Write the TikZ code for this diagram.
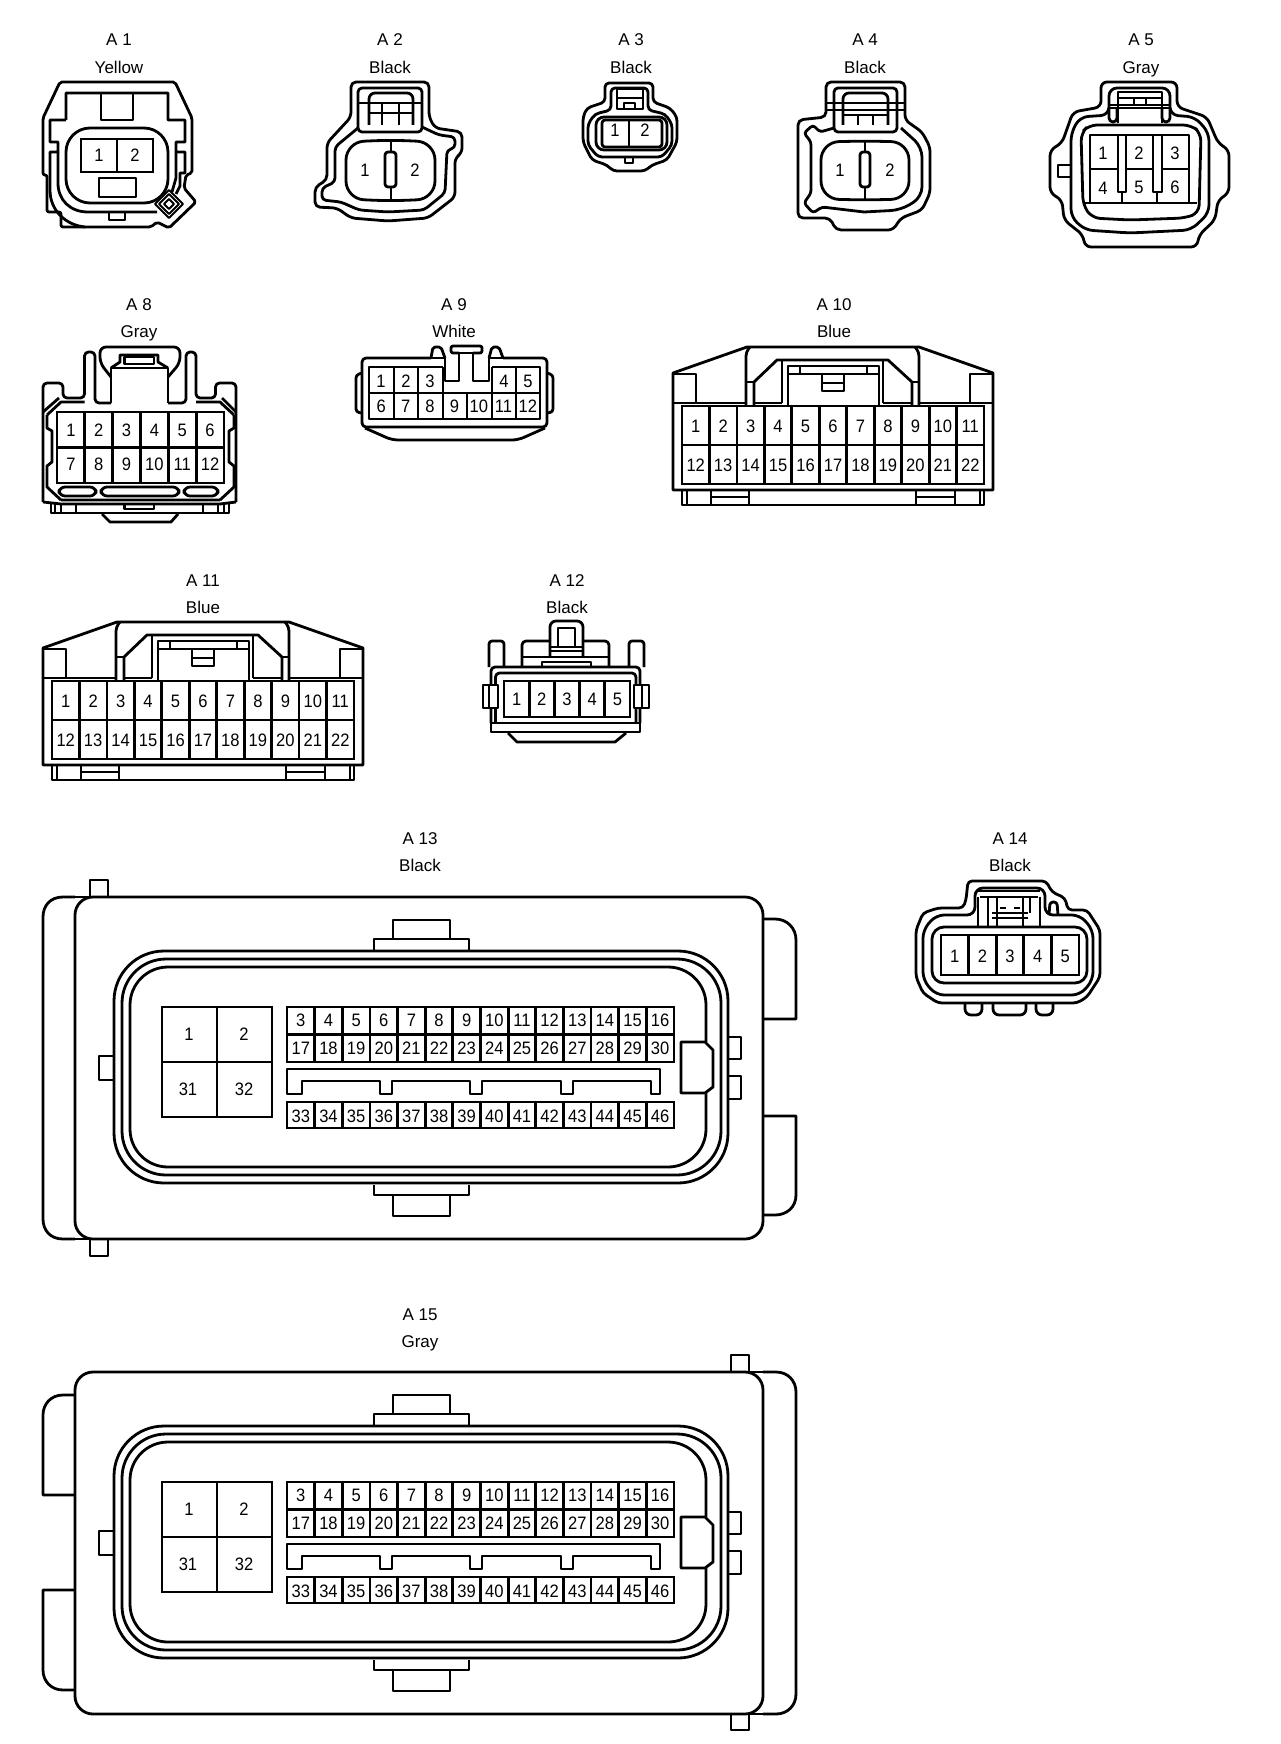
\documentclass[tikz,border=0pt]{standalone}
\usepackage{fontspec}
\setmainfont{Liberation Sans}
\newfontfamily\pinfont[FakeStretch=0.92]{Liberation Sans}
\usetikzlibrary{positioning}

\tikzset{
  pinnum/.style={font=\pinfont\fontsize{9}{10}\selectfont, inner sep=0pt, yshift=-0.5pt},
  title/.style={font=\fontsize{8.5}{10}\selectfont, inner sep=0pt, text height=6pt, text depth=0pt}
}

\newcommand{\pingrid}[6]{
  \foreach \c in {0,...,#5} \draw[line cap=rect] ({#1+(#3-#1)*\c/#5},#2) -- ({#1+(#3-#1)*\c/#5},#4);
  \foreach \r in {0,...,#6} \draw[line cap=rect] (#1,{#2+(#4-#2)*\r/#6}) -- (#3,{#2+(#4-#2)*\r/#6});
}
\newcommand{\pinrow}[6]{
  \foreach \n [count=\i] in {#2,...,#3}
    \node[pinnum] (#1p\n) at ({#4+(#5-#4)*(\i-.5)/(#3-#2+1)},#6) {\n};
}
\newcommand{\ecuface}[1]{
  \draw (374,950) -- (374,939) -- (469,939) -- (469,950);
  \draw (393,939) -- (393,920) -- (450,920) -- (450,939);
  \draw (374,1185) -- (374,1195) -- (469,1195) -- (469,1185);
  \draw (393,1195) -- (393,1216) -- (450,1216) -- (450,1195);
  \draw[rounded corners=25pt] (114,951) rectangle (728,1183);
  \draw[rounded corners=22pt] (122,959) rectangle (721,1175);
  \draw[rounded corners=19pt] (706,1042) -- (706,967) -- (130,967) -- (130,1167) -- (706,1167) -- (706,1093);
  \draw (681,1042) -- (705,1042) -- (713,1050) -- (713,1087) -- (705,1093) -- (681,1093) -- cycle;
  \draw (113,1056) -- (99,1056) -- (99,1080) -- (113,1080);
  \draw (728,1037) -- (741,1037) -- (741,1059) -- (728,1059);
  \draw (728,1076) -- (741,1076) -- (741,1099) -- (728,1099);
  \pingrid{162}{1007}{272}{1117}{2}{2}
  \node[pinnum] (#1p1) at (189,1033) {1};
  \node[pinnum] (#1p2) at (244,1033) {2};
  \node[pinnum] (#1p31) at (188,1088) {31};
  \node[pinnum] (#1p32) at (244,1088) {32};
  \pingrid{287}{1007}{674}{1062}{14}{2}
  \pingrid{287}{1102}{674}{1128}{14}{1}
  \pinrow{#1}{3}{16}{287}{674}{1019}
  \pinrow{#1}{17}{30}{287}{674}{1047}
  \pinrow{#1}{33}{46}{287}{674}{1115}
  \draw (287,1069) -- (660,1069) -- (660,1094) -- (651,1094) -- (651,1081) -- (573,1081) -- (573,1094) -- (561,1094)
    -- (561,1081) -- (482,1081) -- (482,1094) -- (470,1094) -- (470,1081) -- (392,1081) -- (392,1094) -- (380,1094)
    -- (380,1081) -- (302,1081) -- (302,1094) -- (287,1094) -- cycle;
}

\begin{document}
\begin{tikzpicture}[x=0.5pt, y=-0.5pt, line width=1.4pt, line join=round]
  \useasboundingbox (0,0) rectangle (1280,1744);

  \foreach \id/\x/\y/\col in {1/119/40/Yellow, 2/390/40/Black, 3/631/40/Black, 4/865/40/Black, 5/1141/40/Gray,
      8/139/304/Gray, 9/454/304/White, 10/834/304/Blue, 11/203/580/Blue, 12/567/580/Black,
      13/420/838/Black, 14/1010/838/Black, 15/420/1314/Gray} {
    \node[title] (name\id) at (\x,\y) {A \id};
    \node[title] (col\id) at (\x,\y+27.5) {\col};
  }

  \draw[rounded corners=1pt] (60,82) -- (175,82) -- (192,118) -- (192,173) -- (186,175) -- (184,188) -- (196,202) -- (169,228)
    -- (157,222) -- (151,227) -- (61,227) -- (61,212) -- (47,212) -- (47,175) -- (43,175) -- (43,118) -- cycle;
  \draw (66,120) -- (66,93) -- (168,93) -- (168,120) -- (185,120) -- (185,142) -- (176,142) -- (176,152) -- (185,152) -- (185,173)
    -- (180,173) -- (180,186) -- (176,194);
  \draw (66,120) -- (50,120) -- (50,142) -- (58,142) -- (58,152) -- (50,152) -- (50,190) .. controls (50,210) and (65,225) .. (85,227);
  \draw (58,152) -- (58,183) .. controls (58,200) and (70,212) .. (88,212) -- (157,212);
  \draw (176,152) -- (176,178) -- (172,192);
  \draw (101,93) rectangle (133,120);
  \draw[rounded corners=12pt] (66,128) rectangle (168,203);
  \pingrid{81}{139}{153}{172}{2}{1}
  \pinrow{a1}{1}{2}{81}{153}{154}
  \draw (99,178) rectangle (136,197);
  \draw (109,211) -- (109,220) -- (125,220) -- (125,211);
  \foreach \r in {14,10,5}
    \draw[line width=1pt] (169-\r,204) -- (169,204-\r) -- (169+\r,204) -- (169,204+\r) -- cycle;

  \draw[rounded corners=2.5pt] (351,117) -- (351,82) -- (429,82) -- (429,117) -- (435,128) -- (462,132) -- (462,153) -- (455,158) -- (455,197)
    -- (428,218) -- (388,221) -- (351,218) -- (337,208) -- (315,207) -- (315,187) -- (327,180) -- (327,143) -- cycle;
  \draw[rounded corners=2pt] (358,132) -- (358,88) -- (422,88) -- (422,132) -- cycle;
  \draw[rounded corners=2pt] (358,128) -- (335,147) -- (335,182) -- (322,188) -- (322,200) -- (341,202) -- (359,210) -- (388,212) -- (424,210)
    -- (445,193) -- (447,150) -- (455,148) -- (455,137) -- (439,135) -- (422,127);
  \draw[rounded corners=3pt] (369,125) -- (369,93) -- (413,93) -- (413,125);
  \draw (358,103) -- (422,103) (369,113) -- (413,113) (382,103) -- (382,125) (399,103) -- (399,125);
  \draw[rounded corners=9pt] (346,142) -- (391,140) -- (435,142) -- (435,199) -- (391,201) -- (346,199) -- cycle;
  \draw (391,140) -- (391,201);
  \draw[fill=white, rounded corners=1.5pt] (385,152) rectangle (396,187);
  \node[pinnum] (a2p1) at (365,169) {1};
  \node[pinnum] (a2p2) at (415,169) {2};

  \draw[rounded corners=2pt] (605,102) -- (605,83) -- (653,83) -- (653,102) -- (670,108) -- (677,117) -- (677,142) -- (667,160) -- (652,165) -- (645,171)
    -- (613,171) -- (607,165) -- (592,160) -- (583,142) -- (583,117) -- (587,108) -- cycle;
  \draw[rounded corners=2pt] (611,110) -- (611,88) -- (648,88) -- (648,110) -- (665,114) -- (672,124) -- (672,145) -- (662,157) -- (598,157) -- (588,145) -- (588,124) -- (595,114) -- cycle;
  \draw[rounded corners=4pt] (596,117) rectangle (667,150);
  \draw[rounded corners=1.5pt] (602,120) rectangle (662,147);
  \draw (629,120) -- (629,147);
  \node[pinnum] (a3p1) at (615,129) {1};
  \node[pinnum] (a3p2) at (645,129) {2};
  \draw (617,109) -- (617,89) -- (643,89) -- (643,109) -- cycle;
  \draw (617,98) -- (643,98) (624,109) -- (624,103) -- (635,103) -- (635,109);
  \draw (625,158) -- (625,163) -- (633,163) -- (633,158);

  \draw[rounded corners=2.5pt] (826,117) -- (826,82) -- (905,82) -- (905,120) -- (922,132) -- (930,147) -- (930,193) -- (922,210) -- (901,218) -- (893,230)
    -- (836,230) -- (830,218) -- (798,218) -- (798,120) -- cycle;
  \draw[rounded corners=2pt] (834,132) -- (834,88) -- (897,88) -- (897,132) -- cycle;
  \draw[rounded corners=1.5pt] (834,128) -- (820,132) -- (813,125) -- (804,133) -- (811,142) -- (811,193) -- (804,203) -- (813,213) -- (822,207) -- (864,212);
  \draw[rounded corners=5pt] (864,212) -- (901,210) -- (922,197) -- (922,147) -- (901,128);
  \draw[rounded corners=3pt] (843,125) -- (843,93) -- (888,93) -- (888,125);
  \draw (826,103) -- (905,103) (826,110) -- (905,110) (843,115) -- (888,115) (858,115) -- (858,125) (873,115) -- (873,125);
  \draw[rounded corners=9pt] (821,142) -- (865,141) -- (909,142) -- (909,199) -- (865,200) -- (821,199) -- cycle;
  \draw (865,140) -- (865,200);
  \draw[fill=white, rounded corners=1.5pt] (860,152) rectangle (870,187);
  \node[pinnum] (a4p1) at (840,169) {1};
  \node[pinnum] (a4p2) at (890,169) {2};

  \draw[rounded corners=3pt] (1101,107) -- (1101,82) -- (1177,82) -- (1177,107) -- (1207,117) -- (1218,143) -- (1229,150) -- (1229,193) -- (1218,200) -- (1215,220)
    -- (1199,235) -- (1197,247) -- (1085,247) -- (1083,235) -- (1064,220) -- (1062,200) -- (1050,193) -- (1050,150) -- (1062,143) -- (1073,112) -- cycle;
  \draw[rounded corners=4pt] (1109,115) -- (1109,88) -- (1170,88) -- (1170,115) -- (1195,117) -- (1209,133) -- (1209,213) -- (1191,230) -- (1130,233) -- (1085,230) -- (1071,217) -- (1071,133) -- (1080,117) -- cycle;
  \draw[rounded corners=4pt] (1089,125) -- (1191,125) -- (1201,133) -- (1199,213) -- (1185,218) -- (1130,220) -- (1092,218) -- (1083,205) -- (1081,133) -- cycle;
  \draw (1118,123) -- (1118,92) -- (1162,92) -- (1162,123);
  \draw (1118,98) -- (1162,98) (1109,105) -- (1170,105) (1109,108) -- (1170,108) (1134,98) -- (1134,105) (1146,98) -- (1146,105);
  \draw[rounded corners=2pt] (1109,108) -- (1109,122) -- (1117,122) -- (1117,108);
  \draw[rounded corners=2pt] (1162,108) -- (1162,122) -- (1170,122) -- (1170,108);
  \draw (1071,165) -- (1058,165) -- (1058,177) -- (1071,177);
  \draw (1090,203) -- (1090,135) -- (1189,135) -- (1189,203) (1083,203) -- (1197,203);
  \draw (1090,169) -- (1118,169) (1126,169) -- (1153,169) (1162,169) -- (1189,169);
  \draw (1118,135) -- (1118,192) -- (1126,192) -- (1126,135) (1153,135) -- (1153,192) -- (1162,192) -- (1162,135);
  \draw (1122,192) -- (1122,203) (1157,192) -- (1157,203);
  \foreach \n/\x/\y in {1/1103/152, 2/1139/152, 3/1175/152, 4/1103/187, 5/1139/186, 6/1175/186}
    \node[pinnum] (a5p\n) at (\x,\y) {\n};

  \draw[rounded corners=2pt] (43,502) -- (43,383) -- (63,383) -- (63,398) -- (84.5,398) -- (84.5,352) -- (95,352) -- (95,403) -- (111,403);
  \draw[rounded corners=2pt] (168,403) -- (186,403) -- (186,352) -- (196,352) -- (196,398) -- (215.5,398) -- (215.5,383) -- (236,383) -- (236,502);
  \draw (111,403) -- (111,368) -- (168,368) -- (168,403);
  \draw[rounded corners=3pt] (111,377) -- (100,363) -- (100,347) -- (180,347) -- (180,363) -- (168,377);
  \draw (111,368) -- (120,362) -- (120,355) -- (158,355) -- (158,362) -- (168,368);
  \draw (124.5,357) rectangle (154,364);
  \draw (43,412) -- (59,398) (47,415) -- (61,402) -- (84.5,402) (47,415) -- (47,428) -- (52,431) -- (52,462) -- (47,466) -- (47,487) -- (61,500);
  \draw (236,412) -- (222,398) (234,415) -- (220,402) -- (196,402) (234,415) -- (234,428) -- (229,431) -- (229,462) -- (234,466) -- (234,487) -- (220,500);
  \pingrid{57}{412}{224}{483}{6}{2}
  \pinrow{a8}{1}{6}{57}{224}{429}
  \pinrow{a8}{7}{12}{57}{224}{463}
  \draw[rounded corners=3pt] (59,487) rectangle (96,496);
  \draw[rounded corners=3pt] (101,487) rectangle (179,496);
  \draw[rounded corners=3pt] (184,487) rectangle (218,496);
  \draw (61,500) -- (220,500) (43,502) -- (61,504) -- (220,504) -- (236,502);
  \draw (51,504) -- (51,513) -- (229,513) -- (229,504);
  \draw (55,504) -- (55,513) (61,504) -- (61,513) (76,504) -- (76,513) (203,504) -- (203,513) (218,504) -- (218,513) (224,504) -- (224,513);
  \draw (124.5,504) -- (124.5,509) -- (154,509) -- (154,504);
  \draw (102,514) -- (110,522) -- (171,522) -- (178,514);

  \draw[rounded corners=2pt] (431,358) -- (362,358) -- (362,427) -- (547,427) -- (547,358) -- (503,358);
  \draw[rounded corners=1pt] (431,358) -- (433,347) -- (441,347) -- (445,358) (503,358) -- (499,347) -- (492,347) -- (489,358);
  \draw (431,358) -- (445,358) -- (445,381) -- (459,381) -- (459,353) (473,353) -- (473,381) -- (489,381) -- (489,358) -- (503,358);
  \draw[rounded corners=1pt] (459,353) -- (451,353) -- (451,346) -- (482,346) -- (482,353) -- (473,353);
  \draw (459,353) -- (473,353);
  \draw (443,367) -- (369,367) -- (369,419) -- (540,419) -- (540,367) -- (492,367);
  \draw (369,393) -- (540,393) (443,367) -- (443,419) (492,367) -- (492,419);
  \draw (394,367) -- (394,419) (418,367) -- (418,419) (467,393) -- (467,419) (516,367) -- (516,419);
  \draw[rounded corners=1.5pt] (362,373) -- (356,375) -- (356,412) -- (362,413) (547,373) -- (553,375) -- (553,412) -- (547,413);
  \draw[rounded corners=3pt] (365,428) -- (392,440) -- (518,440) -- (545,428);
  \foreach \n/\x in {1/381, 2/406, 3/430, 4/504, 5/528}
    \node[pinnum] (a9p\n) at (\x,380) {\n};
  \pinrow{a9}{6}{12}{369}{540}{405}

  \foreach \id/\dx/\dy in {10/0/0, 11/-630/275} {
    \begin{scope}[shift={(\dx,\dy)}]
      \draw (747,347) -- (919,347) -- (993,373) -- (993,490) -- (673,490) -- (673,373) -- cycle;
      \draw (673,374) -- (696,374) -- (696,402) (993,374) -- (970,374) -- (970,402);
      \draw (673,403) -- (746,403) (919,403) -- (993,403);
      \draw[rounded corners=2pt] (746,406) -- (746,352) -- (750,347);
      \draw[rounded corners=2pt] (919,406) -- (919,352) -- (915,347);
      \draw (754,406) -- (754,382) -- (777,360) -- (888,360) -- (912,382) -- (912,406);
      \draw (746,382) -- (754,382) (912,382) -- (919,382);
      \draw (782,360) -- (782,403) (883,360) -- (883,403) (754,403) -- (782,403) (883,403) -- (912,403);
      \draw (788,405) -- (788,366) -- (879,366) -- (879,405) (788,374) -- (879,374);
      \draw (800,366) -- (800,374) (867,366) -- (867,374);
      \draw (822,374) -- (822,391) -- (844,391) -- (844,374) (822,383) -- (844,383);
      \pingrid{682}{406}{984}{484}{11}{2}
      \pinrow{a\id}{1}{11}{682}{984}{425}
      \pinrow{a\id}{12}{22}{682}{984}{464}
      \draw (682,490) -- (682,505) -- (984,505) -- (984,490);
      \draw (687,490) -- (687,505) (711,490) -- (711,505) (749,490) -- (749,505) (916,490) -- (916,505) (955,490) -- (955,505) (980,490) -- (980,505);
      \draw (711,497) -- (749,497) (916,497) -- (955,497);
    \end{scope}
  }

  \draw[rounded corners=2pt] (491,723) -- (491,667) -- (640,667) -- (640,723);
  \draw[rounded corners=2pt] (495.5,723) -- (495.5,673) -- (636,673) -- (636,723);
  \draw (491,723) -- (491,732) -- (640,732) -- (640,723) (491,723) -- (640,723);
  \draw (508,733) -- (517,742) -- (615,742) -- (626,733);
  \pingrid{504}{681}{630}{717}{5}{1}
  \pinrow{a12}{1}{5}{504}{630}{698}
  \draw[fill=white] (483,685) rectangle (498,708);
  \draw (489,685) -- (489,708);
  \draw[fill=white] (634,685) rectangle (649,708);
  \draw (642,685) -- (642,708);
  \draw[rounded corners=1.5pt] (489,667) -- (489,641) -- (504,641) -- (504,667);
  \draw[rounded corners=1.5pt] (629,667) -- (629,641) -- (644,641) -- (644,667);
  \draw[rounded corners=2pt] (522,667) -- (522,641) -- (550,641);
  \draw[rounded corners=2pt] (583,641) -- (609,641) -- (609,667);
  \draw (522,657) -- (609,657);
  \draw[rounded corners=3pt] (550,657) -- (550,621) -- (583,621) -- (583,657);
  \draw (558,647) -- (558,628) -- (575,628) -- (575,647) (550,647) -- (583,647) (550,651) -- (583,651);
  \draw (542,667) -- (542,662) -- (591,662) -- (591,667);

  \draw[rounded corners=9pt] (75,897) rectangle (763,1239);
  \draw (75,897) -- (63,897) .. controls (50,897) and (43,906) .. (43,917) -- (43,1219) .. controls (43,1230) and (50,1239) .. (63,1239) -- (75,1239);
  \draw (75,897) -- (92,897) (75,1239) -- (92,1239);
  \draw (90,897) -- (90,880) -- (108,880) -- (108,897);
  \draw (90,1239) -- (90,1256) -- (108,1256) -- (108,1239);
  \draw (763,919) -- (775,919) .. controls (787,919) and (796,928) .. (796,940) -- (796,1019) -- (763,1019);
  \draw (763,1116) -- (796,1116) -- (796,1195) .. controls (796,1207) and (787,1215) .. (775,1215) -- (763,1215);
  \ecuface{a13}

  \draw[rounded corners=9pt] (75,1372) rectangle (763,1714);
  \draw (763,1372) -- (776,1372) .. controls (788,1372) and (796,1381) .. (796,1392) -- (796,1694) .. controls (796,1705) and (788,1714) .. (776,1714) -- (763,1714);
  \draw (745,1372) -- (763,1372) (745,1714) -- (763,1714);
  \draw (731,1372) -- (731,1355) -- (749,1355) -- (749,1372);
  \draw (731,1714) -- (731,1730) -- (749,1730) -- (749,1714);
  \draw (75,1395) -- (63,1395) .. controls (51,1395) and (43,1404) .. (43,1415) -- (43,1495) -- (75,1495);
  \draw (75,1590) -- (43,1590) -- (43,1670) .. controls (43,1681) and (51,1690) .. (63,1690) -- (75,1690);
  \begin{scope}[shift={(0,475)}]
    \ecuface{a15}
  \end{scope}

  \draw[rounded corners=2pt] (966,900) -- (968,881) -- (1046,881) -- (1052,892) -- (1065,898) -- (1068,910) -- (1087,910) -- (1100,930) -- (1100,977) -- (1087,997)
    -- (1077,1003) -- (938,1003) -- (923,993) -- (916,977) -- (916,930) -- (923,913) -- (938,908) -- (963,908) -- cycle;
  \draw[rounded corners=4pt] (975,915) -- (975,888) -- (1045,888) -- (1045,915) -- (1080,915) -- (1093,930) -- (1093,980) -- (1080,995) -- (936,995) -- (923,980) -- (923,930) -- (936,915) -- cycle;
  \draw[rounded corners=6pt] (932,927) rectangle (1087,983);
  \pingrid{941}{935}{1079}{975}{5}{1}
  \pinrow{a14}{1}{5}{941}{1079}{955}
  \draw (977,891) -- (1040,891) (980,897) -- (1038,897);
  \draw (978,897) -- (978,927) (988,897) -- (988,927) (997,897) -- (997,927) (1023,897) -- (1023,927) (1030,897) -- (1030,913) (1040,897) -- (1040,927);
  \draw (992,913) -- (1028,913) (992,918) -- (1028,918) (1000,908) -- (1006,908) (1014,908) -- (1020,908);
  \draw[rounded corners=1.5pt] (1049,915) -- (1050,902) -- (1057,902) -- (1058,915);
  \draw[rounded corners=3pt] (965,1003) -- (965,1015) -- (982,1015) -- (982,1003);
  \draw[rounded corners=3pt] (993,1003) -- (993,1015) -- (1026,1015) -- (1026,1003);
  \draw[rounded corners=3pt] (1036,1003) -- (1036,1015) -- (1053,1015) -- (1053,1003);
\end{tikzpicture}
\end{document}
